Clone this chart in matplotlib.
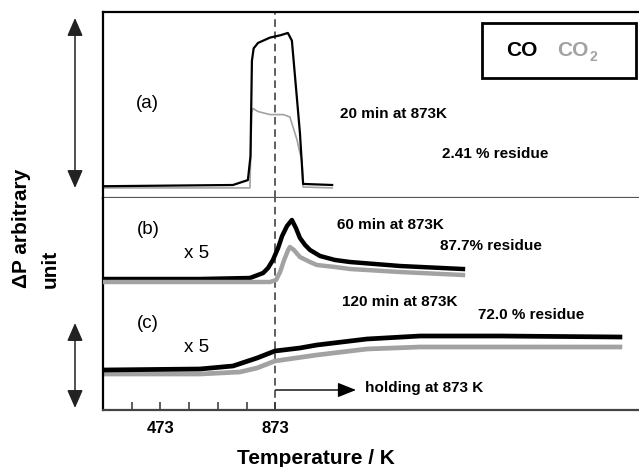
import matplotlib
matplotlib.use("Agg")
import matplotlib.pyplot as plt
from matplotlib.patches import Rectangle, FancyArrowPatch
import numpy as np

plt.rcParams['font.family'] = ['Liberation Sans', 'DejaVu Sans']

# ---- data -------------------------------------------------------------
# x: temperature-equivalent position (K); beyond 873 K the sample is held isothermally
# (a) 20 min at 873 K, signal in arbitrary units (baseline 0)
a_x_co = [273, 725, 777, 786, 791, 797, 812, 854, 890, 916, 930, 948, 958, 969, 1070]
a_co = [0.5, 1.3, 4.5, 20, 82, 90, 93.5, 97, 98.5, 100, 95, 56.5, 35, 2, 1.3]
a_x_co2 = [273, 784, 790, 795, 812, 854, 900, 923, 948, 958, 965, 969, 1070]
a_co2 = [-0.6, -0.6, 48, 51, 49, 47, 47, 45.5, 30.5, 22, 17.5, 0, -0.6]

# (b) 60 min at 873 K, x5 magnification
b_x_co = [273, 610, 784, 830, 847, 864, 882, 896, 913, 930, 944, 958, 976, 993,
          1028, 1080, 1132, 1306, 1525]
b_co = [3, 3, 4, 9, 14, 22, 34, 46, 56, 62, 54, 44, 37, 32, 26, 22, 20, 16, 13]
b_x_co2 = [273, 610, 854, 875, 889, 903, 917, 923, 937, 958, 993, 1017, 1080,
           1132, 1306, 1525]
b_co2 = [0, 0, 0, 2, 10, 22, 32, 35, 32, 25, 20, 17, 15, 13, 10, 7]

# (c) 120 min at 873 K, x5 magnification
c_x_co = [273, 610, 725, 809, 871, 958, 1017, 1191, 1376, 1654, 2071]
c_co = [4, 5, 8, 16, 23, 26, 29, 35, 38, 38, 37]
c_x_co2 = [273, 610, 749, 809, 871, 1017, 1191, 1376, 2071]
c_co2 = [0, 0, 2, 6, 13, 19, 25, 27, 27]

b_offset = 128
c_offset = 36

major_ticks = [473, 873]
minor_ticks = [373, 573, 673, 773]
T_hold = 873
hold_arrow_end = 1153

CO_COLOR = 'black'
CO2_COLOR = '#a2a2a2'

# ---- figure -----------------------------------------------------------
W, H = 639, 467
fig = plt.figure(figsize=(W / 100, H / 100), dpi=100)


def fx(px):
    return px / W


def fy(py):
    return 1 - py / H


x_range = (273, 273 + 536 / 0.2875)

ax_a = fig.add_axes([fx(103), fy(198), 536 / W, 186 / H])
ax_bc = fig.add_axes([fx(103), fy(410), 536 / W, 212 / H])

for ax in (ax_a, ax_bc):
    ax.set_xlim(*x_range)
    ax.spines['right'].set_visible(False)
    ax.set_yticks([])
    ax.axvline(T_hold, color='#333333', lw=1.1, linestyle=(0, (5, 3)), zorder=1)

ax_a.set_ylim(-7.14, 113.6)
ax_a.set_xticks([])
ax_a.spines['top'].set_linewidth(1.6)
ax_a.spines['left'].set_linewidth(1.6)
ax_a.spines['bottom'].set_linewidth(1.6)
ax_a.spines['bottom'].set_color('#555555')

ax_bc.set_ylim(0, 212)
ax_bc.spines['top'].set_visible(False)
ax_bc.spines['left'].set_linewidth(1.6)
ax_bc.spines['bottom'].set_linewidth(1.6)
ax_bc.spines['bottom'].set_color('#444444')
ax_bc.set_xticks(major_ticks)
ax_bc.set_xticklabels([str(t) for t in major_ticks], fontsize=12, fontweight='bold')
ax_bc.set_xticks(minor_ticks, minor=True)
ax_bc.tick_params(axis='x', which='both', direction='in', length=6, width=1.1,
                  color='#333333', pad=8)

# traces
ax_a.plot(a_x_co, a_co, color=CO_COLOR, lw=1.6, zorder=3)
ax_a.plot(a_x_co2, a_co2, color=CO2_COLOR, lw=1.2, zorder=2)

ax_bc.plot(b_x_co, np.array(b_co) + b_offset, color=CO_COLOR, lw=3.2, zorder=2)
ax_bc.plot(b_x_co2, np.array(b_co2) + b_offset, color=CO2_COLOR, lw=3.2, zorder=3)
ax_bc.plot(c_x_co, np.array(c_co) + c_offset, color=CO_COLOR, lw=3.4, zorder=3)
ax_bc.plot(c_x_co2, np.array(c_co2) + c_offset, color=CO2_COLOR, lw=3.4, zorder=2)

# holding arrow
ax_bc.annotate('', xy=(hold_arrow_end, 20), xytext=(T_hold, 20),
               arrowprops=dict(arrowstyle='-|>,head_length=0.7,head_width=0.28',
                               color='black', lw=1.0, mutation_scale=16,
                               shrinkA=0, shrinkB=0))

# ---- labels -----------------------------------------------------------
bold = dict(fontweight='bold', fontsize=11, va='center', ha='left')
fig.text(fx(147), fy(103), '(a)', fontsize=13.5, ha='center', va='center')
fig.text(fx(340), fy(114), '20 min at 873K', **bold)
fig.text(fx(442), fy(154), '2.41 % residue', **bold)

fig.text(fx(148), fy(230), '(b)', fontsize=13.5, ha='center', va='center')
fig.text(fx(197), fy(253), 'x 5', fontsize=13.5, ha='center', va='center')
fig.text(fx(337), fy(225), '60 min at 873K', **bold)
fig.text(fx(440), fy(246), '87.7% residue', **bold)

fig.text(fx(148), fy(323), '(c)', fontsize=13.5, ha='center', va='center')
fig.text(fx(197), fy(347), 'x 5', fontsize=13.5, ha='center', va='center')
fig.text(fx(342), fy(302), '120 min at 873K', **bold)
fig.text(fx(478), fy(315), '72.0 % residue', **bold)
fig.text(fx(365), fy(388), 'holding at 873 K', **bold)

fig.text(fx(316), fy(459), 'Temperature / K', fontsize=15, fontweight='bold',
         ha='center', va='center')
fig.text(fx(22), fy(288), 'ΔP arbitrary', fontsize=15, fontweight='bold',
         rotation=90, ha='center', va='bottom')
fig.text(fx(50), fy(288), 'unit', fontsize=15, fontweight='bold',
         rotation=90, ha='center', va='bottom')

# legend box
fig.add_artist(Rectangle((fx(482), fy(78)), 154 / W, 55 / H, fill=False,
                         lw=2.0, edgecolor='black', transform=fig.transFigure))
fig.text(fx(522), fy(50), 'CO', fontsize=15, fontweight='bold', color=CO_COLOR,
         ha='center', va='center')
fig.text(fx(588), fy(50), 'CO', fontsize=15, fontweight='bold', color=CO2_COLOR,
         ha='right', va='center')
fig.text(fx(589), fy(57), '2', fontsize=10, fontweight='bold', color=CO2_COLOR,
         ha='left', va='center')

# scale arrows on the left
for y0, y1 in [(18, 188), (323, 408)]:
    fig.add_artist(FancyArrowPatch((fx(75), fy(y0)), (fx(75), fy(y1)),
                                   arrowstyle='<|-|>,head_length=0.55,head_width=0.24',
                                   mutation_scale=20, lw=1.1, color='#222222',
                                   shrinkA=0, shrinkB=0,
                                   transform=fig.transFigure))

fig.savefig('out.png', dpi=100)
